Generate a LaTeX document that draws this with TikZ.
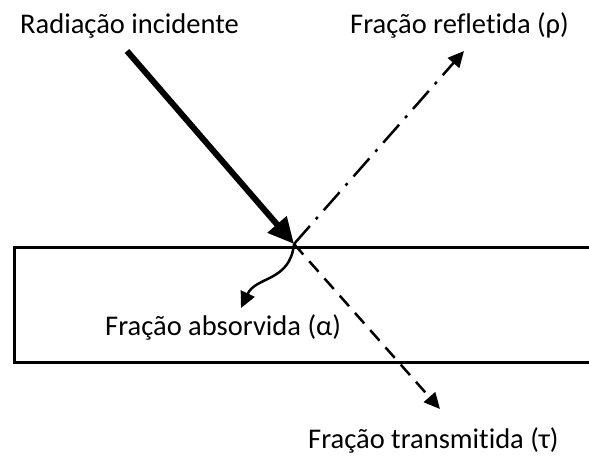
\documentclass[tikz,border=0pt]{standalone}
\usepackage{fontspec}
\setmainfont[Ligatures={NoCommon}]{Carlito}
\usetikzlibrary{arrows.meta}
\begin{document}
\begin{tikzpicture}[x=1pt,y=-1pt]
\useasboundingbox (0,0) rectangle (589,459);
\coordinate (Src) at (127,51);
\coordinate (P) at (294,244);
\coordinate (Refl) at (464,51);
\coordinate (Trans) at (440,409);
\coordinate (Abs) at (241,308);
\coordinate (TL) at (14,247);
\coordinate (BL) at (14,362);
\coordinate (TR) at (600,247);
\coordinate (BR) at (600,362);

% lamina (aberta a direita)
\draw[line width=3pt] (TR) -- (TL) -- (BL) -- (BR);

\draw[line width=6pt, -{Triangle[length=26pt,width=24pt]}] (Src) -- (P);
\draw[line width=2.5pt, dash pattern=on 24pt off 9pt on 3pt off 9pt, -{Triangle[length=16pt,width=15pt]}] (P) -- (Refl);
\draw[line width=2.5pt, dash pattern=on 14pt off 9pt, -{Triangle[length=16pt,width=15pt]}] (P) -- (Trans);
\draw[line width=2.5pt, -{Triangle[length=16pt,width=15pt]}] (P) .. controls (290,282) and (256,276) .. (Abs);

\node[font=\fontsize{28.5}{34}\selectfont, anchor=base west, inner sep=0pt] (inc) at (20,33) {Radiação incidente};
\node[font=\fontsize{28.5}{34}\selectfont, anchor=base west, inner sep=0pt] (ref) at (350,33) {Fração refletida (ρ)};
\node[font=\fontsize{28.5}{34}\selectfont, anchor=base west, inner sep=0pt] (abs) at (105,335) {Fração absorvida (α)};
\node[font=\fontsize{28.5}{34}\selectfont, anchor=base west, inner sep=0pt] (tra) at (308,448) {Fração transmitida (τ)};
\end{tikzpicture}
\end{document}
